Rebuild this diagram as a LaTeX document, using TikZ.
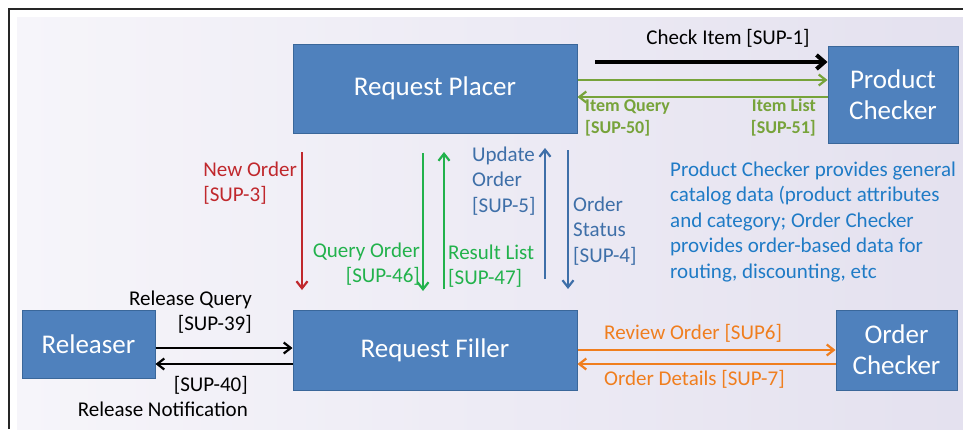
\documentclass[tikz,border=0pt]{standalone}
\usepackage{fontspec}
\setmainfont{Carlito}
\usetikzlibrary{arrows.meta}
\definecolor{boxfill}{HTML}{4F81BD}
\definecolor{boxline}{HTML}{3A679A}
\definecolor{bgl}{HTML}{F6F5FA}
\definecolor{bgr}{HTML}{E4E1EF}
\definecolor{redA}{HTML}{C0282D}
\definecolor{greenA}{HTML}{22B24C}
\definecolor{oliveA}{HTML}{77A33A}
\definecolor{blueA}{HTML}{3E6FA8}
\definecolor{orangeA}{HTML}{F07E1E}
\definecolor{textblue}{HTML}{1F7BC6}
\tikzset{
  box/.style={draw=boxline, line width=1pt, fill=boxfill, text=white, font=\fontsize{27}{31}\selectfont, align=center, inner sep=0pt},
  lbl/.style={font=\fontsize{21}{25.5}\selectfont, inner sep=0pt},
  olbl/.style={text=oliveA, font=\fontsize{18}{22}\selectfont\bfseries, inner sep=0pt},
  arr/.style={line width=2.2pt, -{Straight Barb[length=7pt,width=11pt,line width=2.2pt]}},
  thick arr/.style={line width=4.5pt, -{Straight Barb[length=8pt,width=14pt,line width=4pt]}},
}
\begin{document}
\begin{tikzpicture}[x=1pt,y=-1pt]
\useasboundingbox (0,0) rectangle (963,429);
\fill[white] (0,0) rectangle (963,429);
\shade[left color=bgl, right color=bgr] (17,17) rectangle (963,429);
\draw[line width=2pt, black!85] (9,429) -- (9,9) -- (963,9);

% boxes
\node[box, minimum width=284pt, minimum height=89pt] (rp) at (435,88.5) {Request Placer};
\node[box, minimum width=130pt, minimum height=97pt] (pc) at (893,94.5) {Product\\Checker};
\node[box, minimum width=133pt, minimum height=68pt] (rel) at (88.5,344) {Releaser};
\node[box, minimum width=284pt, minimum height=80pt] (rf) at (435,350) {Request Filler};
\node[box, minimum width=121pt, minimum height=80pt] (oc) at (896.5,350) {Order\\Checker};

% check item
\coordinate (ci1) at (595,62);
\draw[thick arr] (ci1) -- (pc.west |- ci1);
\node[lbl] (cil) at (728,38) {Check Item [SUP-1]};

\draw[arr, oliveA] (rp.east |- 0,80) -- (pc.west |- 0,80);
\draw[arr, oliveA] (pc.west |- 0,97) -- (rp.east |- 0,97);
\node[olbl, anchor=west, align=left] (iq) at (585,118) {Item Query\\{[SUP-50]}};
\node[olbl, anchor=east, align=right] (il) at (816,118) {Item List\\{[SUP-51]}};

% vertical arrows
\coordinate (no1) at (302,152); \coordinate (no2) at (302,290);
\draw[arr, redA] (no1) -- (no2);
\node[lbl, text=redA, anchor=east, align=left] (nol) at (297,183) {New Order\\{[SUP-3]}};

\coordinate (qo1) at (423,153); \coordinate (qo2) at (423,291);
\draw[arr, greenA] (qo1) -- (qo2);
\node[lbl, text=greenA, anchor=east, align=right] (qol) at (420,264) {Query Order\\{[SUP-46]}};

\coordinate (rl1) at (444,289); \coordinate (rl2) at (444,152);
\draw[arr, greenA] (rl1) -- (rl2);
\node[lbl, text=greenA, anchor=west, align=left] (rll) at (448,266) {Result List\\{[SUP-47]}};

\coordinate (uo1) at (545,279); \coordinate (uo2) at (545,148);
\draw[arr, blueA] (uo1) -- (uo2);
\node[lbl, text=blueA, anchor=west, align=left] (uol) at (472,181) {Update\\Order\\{[SUP-5]}};

\coordinate (os1) at (568,150); \coordinate (os2) at (568,289);
\draw[arr, blueA] (os1) -- (os2);
\node[lbl, text=blueA, anchor=west, align=left] (osl) at (573,231) {Order\\Status\\{[SUP-4]}};

\node[lbl, text=textblue, anchor=west, align=left] (note) at (670,222)
  {Product Checker provides general\\catalog data (product attributes\\and category; Order Checker\\provides order-based data for\\routing, discounting, etc};

% releaser arrows
\draw[arr, black] (rel.east |- 0,348) -- (rf.west |- 0,348);
\draw[arr, black] (rf.west |- 0,364) -- (rel.east |- 0,364);
\node[lbl, anchor=east, align=right] (rq) at (252,312) {Release Query\\{[SUP-39]}};
\node[lbl, anchor=east, align=right] (rn) at (248,396.5) {{[SUP-40]}\\Release Notification};

% orange arrows
\draw[arr, orangeA] (rf.east |- 0,350) -- (oc.west |- 0,350);
\draw[arr, orangeA] (oc.west |- 0,364) -- (rf.east |- 0,364);
\node[lbl, text=orangeA, anchor=west] (ro) at (604,333) {Review Order [SUP6]};
\node[lbl, text=orangeA, anchor=west] (od) at (604,379) {Order Details [SUP-7]};
\end{tikzpicture}
\end{document}
